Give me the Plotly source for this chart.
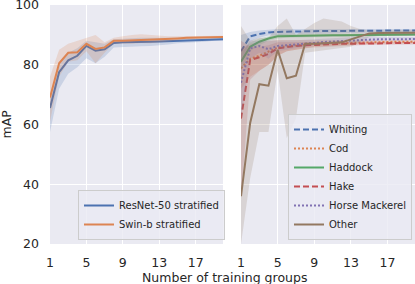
import plotly.graph_objects as go

# ---------------- data ----------------
groups = list(range(1, 21))
x_ticks = [1, 5, 9, 13, 17]
y_ticks = [20, 40, 60, 80, 100]

# left panel: stratified backbones (mean, lower, upper)
resnet_mean = [65.5, 77.5, 81.5, 83.0, 86.3, 84.7, 85.2, 87.3, 87.5, 87.5, 87.6, 87.7, 87.8, 87.9, 88.1, 88.2, 88.2, 88.3, 88.5, 88.5]
resnet_lo = [57.5, 72.0, 77.0, 79.2, 82.2, 80.5, 82.7, 85.8, 85.8, 86.0, 86.2, 86.3, 86.5, 86.8, 87.2, 87.5, 87.6, 87.7, 88.0, 88.0]
resnet_hi = [69.0, 80.5, 84.0, 85.5, 88.0, 87.5, 87.0, 88.5, 88.7, 88.8, 89.0, 89.0, 89.0, 89.0, 89.0, 88.9, 88.8, 88.9, 89.0, 89.0]
swin_mean = [69.0, 80.5, 84.0, 84.2, 87.0, 85.3, 85.8, 88.0, 88.0, 88.1, 88.2, 88.3, 88.5, 88.7, 88.8, 89.0, 89.1, 89.2, 89.3, 89.3]
swin_lo = [61.0, 76.0, 81.0, 81.5, 84.5, 80.5, 84.0, 87.0, 87.0, 87.0, 87.3, 87.2, 87.5, 87.8, 88.2, 88.5, 88.6, 88.8, 89.0, 89.0]
swin_hi = [76.0, 85.0, 87.0, 88.0, 89.0, 90.0, 87.5, 89.0, 89.5, 90.0, 90.2, 90.0, 89.6, 89.5, 89.5, 89.5, 89.6, 89.6, 89.7, 89.7]

# right panel: per-species (mean, lower, upper)
whiting = [84.5, 89.5, 90.3, 90.8, 91.0, 91.1, 91.1, 91.2, 91.2, 91.3, 91.3, 91.3, 91.3, 91.4, 91.4, 91.4, 91.5, 91.5, 91.5, 91.5]
whiting_lo = [80.0, 87.8, 89.0, 89.8, 90.0, 90.2, 90.3, 90.4, 90.4, 90.5, 90.6, 90.6, 90.6, 90.7, 90.8, 90.8, 90.9, 90.9, 91.0, 91.0]
whiting_hi = [90.0, 91.0, 91.5, 91.8, 92.0, 92.0, 92.0, 92.0, 92.0, 92.1, 92.1, 92.1, 92.1, 92.1, 92.1, 92.0, 92.0, 92.0, 92.0, 92.0]
cod = [78.8, 82.0, 83.0, 84.4, 85.8, 86.2, 86.5, 86.8, 87.0, 87.1, 87.2, 87.3, 87.3, 87.4, 87.5, 87.6, 87.6, 87.7, 87.7, 87.7]
cod_lo = [72.0, 76.0, 78.0, 80.0, 83.0, 84.5, 85.0, 85.5, 86.0, 86.2, 86.4, 86.6, 86.7, 86.8, 86.9, 87.0, 87.0, 87.1, 87.1, 87.1]
cod_hi = [85.0, 87.0, 87.5, 88.0, 88.3, 88.3, 88.3, 88.3, 88.3, 88.2, 88.2, 88.2, 88.2, 88.2, 88.2, 88.3, 88.3, 88.3, 88.3, 88.3]
haddock = [81.0, 86.0, 87.7, 88.8, 89.5, 89.6, 89.7, 89.7, 89.8, 89.8, 89.9, 89.9, 89.9, 90.0, 90.0, 90.0, 90.0, 90.1, 90.1, 90.1]
haddock_lo = [78.0, 84.5, 86.5, 88.0, 88.8, 89.0, 89.1, 89.2, 89.3, 89.3, 89.4, 89.4, 89.4, 89.5, 89.5, 89.5, 89.5, 89.6, 89.6, 89.6]
haddock_hi = [84.0, 87.5, 88.8, 89.6, 90.2, 90.3, 90.3, 90.3, 90.3, 90.3, 90.4, 90.4, 90.4, 90.5, 90.5, 90.5, 90.5, 90.6, 90.6, 90.6]
hake = [62.0, 81.6, 82.5, 83.6, 85.5, 86.0, 86.3, 86.5, 86.7, 86.8, 86.9, 87.0, 87.0, 87.1, 87.1, 87.2, 87.2, 87.3, 87.3, 87.3]
hake_lo = [35.0, 75.0, 78.0, 80.0, 83.0, 84.5, 85.0, 85.5, 85.8, 86.0, 86.2, 86.3, 86.4, 86.5, 86.6, 86.7, 86.7, 86.8, 86.8, 86.8]
hake_hi = [88.0, 86.0, 86.0, 86.5, 87.5, 87.5, 87.6, 87.6, 87.7, 87.7, 87.7, 87.8, 87.8, 87.8, 87.8, 87.8, 87.8, 87.8, 87.8, 87.8]
horse = [74.0, 85.5, 86.3, 85.2, 86.3, 86.5, 86.8, 87.0, 87.3, 87.6, 87.8, 88.0, 88.1, 88.3, 88.4, 88.5, 88.5, 88.6, 88.6, 88.6]
horse_lo = [62.0, 82.0, 84.0, 82.0, 84.5, 85.0, 85.5, 86.0, 86.5, 86.8, 87.0, 87.2, 87.4, 87.6, 87.8, 88.0, 88.0, 88.1, 88.1, 88.1]
horse_hi = [84.0, 88.0, 88.0, 88.0, 88.0, 88.0, 88.2, 88.4, 88.6, 88.8, 89.0, 89.1, 89.2, 89.3, 89.3, 89.3, 89.3, 89.3, 89.3, 89.3]
other = [36.0, 60.5, 73.5, 73.0, 85.0, 75.5, 76.3, 87.0, 87.0, 87.1, 87.2, 87.5, 88.5, 89.5, 90.5, 90.6, 90.6, 90.7, 90.7, 90.7]
other_lo = [20.0, 42.0, 57.5, 57.5, 78.0, 55.5, 62.0, 84.0, 84.5, 85.0, 85.3, 85.6, 86.0, 87.5, 89.3, 89.6, 89.6, 89.7, 89.7, 89.7]
other_hi = [93.0, 88.0, 89.0, 89.0, 93.0, 95.5, 90.0, 92.0, 94.0, 95.5, 95.0, 94.5, 93.0, 92.0, 91.5, 91.5, 91.5, 91.6, 91.6, 91.6]

# ---------------- styles ----------------
C = {
    "blue": (76, 114, 176),
    "orange": (221, 132, 82),
    "green": (85, 168, 104),
    "red": (196, 78, 82),
    "purple": (129, 114, 179),
    "brown": (147, 120, 96),
}
DASH = "6px,3px"
DOT = "2px,2px"

left_series = [
    ("ResNet-50 stratified", resnet_mean, resnet_lo, resnet_hi, "blue", "solid"),
    ("Swin-b stratified", swin_mean, swin_lo, swin_hi, "orange", "solid"),
]
right_series = [
    ("Whiting", whiting, whiting_lo, whiting_hi, "blue", DASH),
    ("Cod", cod, cod_lo, cod_hi, "orange", DOT),
    ("Haddock", haddock, haddock_lo, haddock_hi, "green", "solid"),
    ("Hake", hake, hake_lo, hake_hi, "red", DASH),
    ("Horse Mackerel", horse, horse_lo, horse_hi, "purple", DOT),
    ("Other", other, other_lo, other_hi, "brown", "solid"),
]

fig = go.Figure()


def add_group(series, xa, ya, legend):
    for name, mean, lo, hi, col, dash in series:
        r, g, b = C[col]
        fig.add_trace(go.Scatter(
            x=groups + groups[::-1], y=hi + lo[::-1], xaxis=xa, yaxis=ya,
            fill="toself", fillcolor=f"rgba({r},{g},{b},0.2)",
            line=dict(width=0), mode="lines", showlegend=False, hoverinfo="skip"))
        fig.add_trace(go.Scatter(
            x=groups, y=mean, xaxis=xa, yaxis=ya, name=name, mode="lines",
            line=dict(color=f"rgb({r},{g},{b})", width=2, dash=dash),
            legend=legend))


add_group(left_series, "x", "y", "legend")
add_group(right_series, "x2", "y2", "legend2")

W, H = 415, 284
TXT = "#262626"
FONT = "DejaVu Sans"
TICK = 12.5

axis_common = dict(
    range=[1, 20], tickvals=x_ticks, showgrid=True, gridcolor="white", gridwidth=1,
    zeroline=False, showline=False, ticks="", tickfont=dict(size=TICK, color=TXT, family=FONT),
    ticklabelstandoff=9, ticklabeloverflow="allow", automargin=False,
)
yaxis_common = dict(
    range=[20, 100], tickvals=y_ticks, showgrid=True, gridcolor="white", gridwidth=1,
    zeroline=False, showline=False, ticks="", tickfont=dict(size=TICK, color=TXT, family=FONT),
    ticklabeloverflow="allow", automargin=False,
)

legend_style = dict(
    bgcolor="rgba(234,234,242,0.8)", bordercolor="#CCCCCC", borderwidth=1,
    font=dict(size=10, color=TXT, family=FONT), itemwidth=30,
    yanchor="bottom", xanchor="left", tracegroupgap=0,
)

fig.update_layout(
    width=W, height=H,
    margin=dict(l=0, r=0, t=0, b=0, autoexpand=False),
    paper_bgcolor="white", plot_bgcolor="#EAEAF2",
    font=dict(family=FONT, color=TXT),
    xaxis=dict(domain=[50 / W, 223 / W], anchor="y", **axis_common),
    xaxis2=dict(domain=[241 / W, 1.0], anchor="y2", **axis_common),
    yaxis=dict(domain=[1 - 244 / H, 1 - 5 / H], anchor="x", ticklabelstandoff=10, **yaxis_common),
    yaxis2=dict(domain=[1 - 244 / H, 1 - 5 / H], anchor="x2", matches="y",
                showticklabels=False, **yaxis_common),
    legend=dict(x=78 / W, y=1 - 240 / H, **legend_style),
    legend2=dict(x=288 / W, y=1 - 240 / H, **legend_style),
    annotations=[
        dict(text="mAP", x=6 / W, y=1 - 124.5 / H, xref="paper", yref="paper",
             textangle=-90, showarrow=False, xanchor="center", yanchor="middle",
             font=dict(size=12.5, color=TXT, family=FONT)),
        dict(text="Number of training groups", x=224 / W, y=1 - 277 / H,
             xref="paper", yref="paper", showarrow=False, xanchor="center",
             yanchor="middle", font=dict(size=12.5, color=TXT, family=FONT)),
    ],
    showlegend=True,
)

fig.write_html(
    "out.html",
    config={"displayModeBar": False},
    post_script="document.body.style.margin='0';document.body.style.padding='0';"
                "document.body.style.overflow='hidden';",
)
